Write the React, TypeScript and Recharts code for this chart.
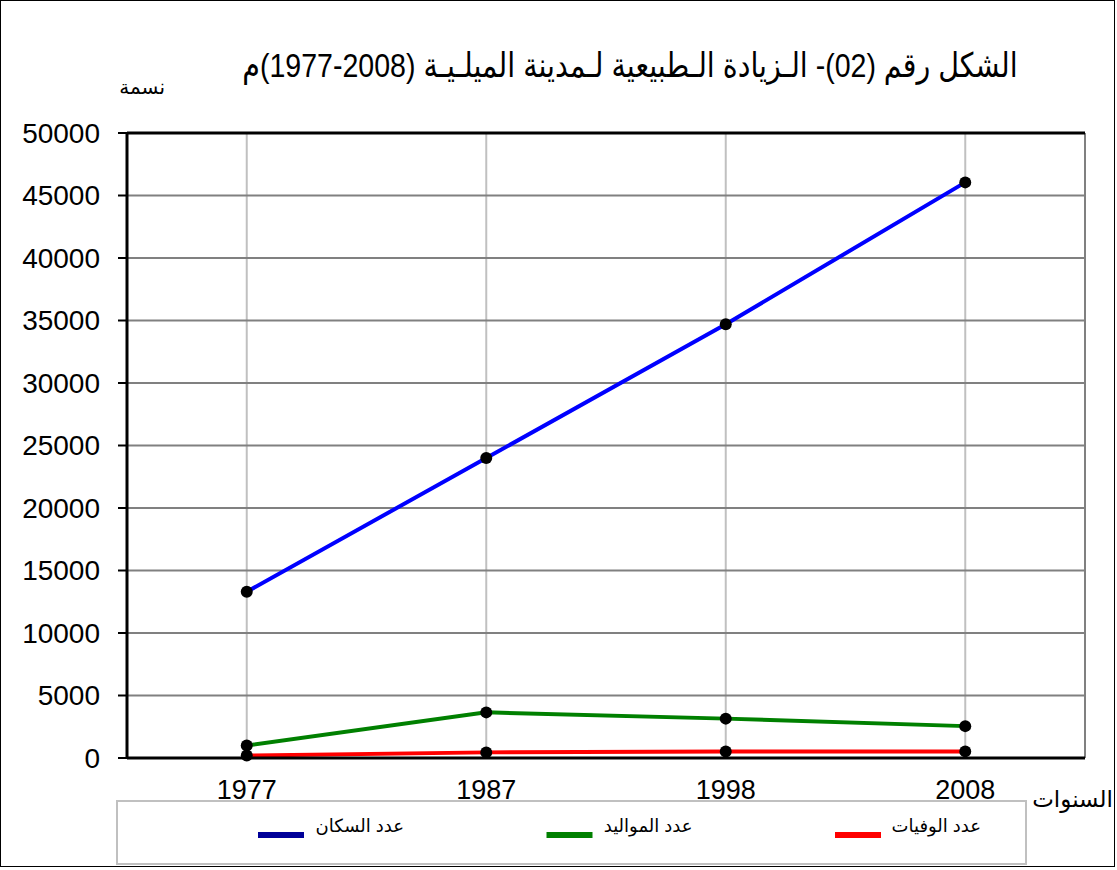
import { LineChart, Line, XAxis, YAxis, CartesianGrid, ReferenceLine } from "recharts";

const years = ["1977", "1987", "1998", "2008"];
const population = [13300, 24000, 34700, 46050];
const births = [1000, 3650, 3150, 2550];
const deaths = [200, 450, 520, 530];
const yTicks = [0, 5000, 10000, 15000, 20000, 25000, 30000, 35000, 40000, 45000, 50000];
const bandEdges = [0, 1, 2, 3, 4];

const title = "الشكل رقم (02)- الـزيادة الـطبيعية لـمدينة الميلـيـة (2008-1977)م";
const yLabel = "نسمة";
const xLabel = "السنوات";

const series = [
  { key: "population", name: "عدد السكان", color: "#0000ff", legendColor: "#000099", values: population },
  { key: "births", name: "عدد المواليد", color: "#008000", legendColor: "#008000", values: births },
  { key: "deaths", name: "عدد الوفيات", color: "#ff0000", legendColor: "#ff0000", values: deaths },
];

const data = years.map((year, i) => {
  const row: Record<string, string | number> = { year };
  series.forEach((s) => {
    row[s.key] = s.values[i];
  });
  return row;
});

const font = "'Liberation Sans', Arial, 'DejaVu Sans', sans-serif";

export default function App() {
  return (
    <div style={{ position: "absolute", left: 0, top: 0, width: 1117, height: 870, fontFamily: font, background: "#fff" }}>
      <LineChart width={1117} height={870} data={data} margin={{ top: 133, right: 32, bottom: 71, left: 17 }}>
        <CartesianGrid xAxisId="bCat" horizontal={false} stroke="#c0c0c0" strokeWidth={2} />
        <CartesianGrid xAxisId="aEdge" stroke="#808080" strokeWidth={2} />
        <XAxis
          xAxisId="aEdge"
          type="number"
          domain={[0, 4]}
          allowDataOverflow
          ticks={bandEdges}
          tick={false}
          height={1}
          axisLine={{ stroke: "#000", strokeWidth: 3 }}
          tickLine={{ stroke: "#000", strokeWidth: 2 }}
          tickSize={9}
        />
        <XAxis
          xAxisId="bCat"
          dataKey="year"
          scale="band"
          height={40}
          axisLine={false}
          tickLine={false}
          tickSize={0}
          tickMargin={21}
          tick={{ fontSize: 27, fill: "#000" }}
        />
        <YAxis
          width={110}
          domain={[0, 50000]}
          ticks={yTicks}
          interval={0}
          axisLine={{ stroke: "#000", strokeWidth: 3 }}
          tickLine={{ stroke: "#000", strokeWidth: 2 }}
          tickSize={9}
          tickMargin={18}
          tick={{ fontSize: 28, fill: "#000" }}
        />
        <ReferenceLine xAxisId="aEdge" y={50000} stroke="#000" strokeWidth={3} />
        <ReferenceLine xAxisId="aEdge" x={4} stroke="#000" strokeWidth={2} />
        {series.map((s) => (
          <Line
            key={s.key}
            xAxisId="bCat"
            dataKey={s.key}
            name={s.name}
            type="linear"
            stroke={s.color}
            strokeWidth={4}
            dot={{ r: 6, fill: "#000", stroke: "#000", strokeWidth: 0 }}
            isAnimationActive={false}
          />
        ))}
      </LineChart>
      <svg
        width={1117}
        height={870}
        style={{ position: "absolute", left: 0, top: 0, pointerEvents: "none", fontFamily: font }}
      >
        <rect x={0.5} y={0.5} width={1114} height={866} fill="none" stroke="#000" strokeWidth={1} />
        <g transform="translate(630,77) scale(0.84,1)">
          <text x={0} y={0} fontSize={34} textAnchor="middle" direction="rtl" fill="#000">
            {title}
          </text>
        </g>
        <text x={165} y={94} fontSize={20} textAnchor="end" fill="#000">
          {yLabel}
        </text>
        <text x={1113} y={807} fontSize={23} textAnchor="end" fill="#000">
          {xLabel}
        </text>
        <rect x={117} y={801} width={909} height={63} fill="#fff" stroke="#c0c0c0" strokeWidth={2} />
        {series.map((s, i) => {
          const lineEnd = 304 + i * 288.5;
          return (
            <g key={s.key}>
              <line x1={lineEnd - 46} x2={lineEnd} y1={835} y2={835} stroke={s.legendColor} strokeWidth={6} />
              <text x={lineEnd + 100} y={832} fontSize={18} textAnchor="end" fill="#000">
                {s.name}
              </text>
            </g>
          );
        })}
      </svg>
    </div>
  );
}
